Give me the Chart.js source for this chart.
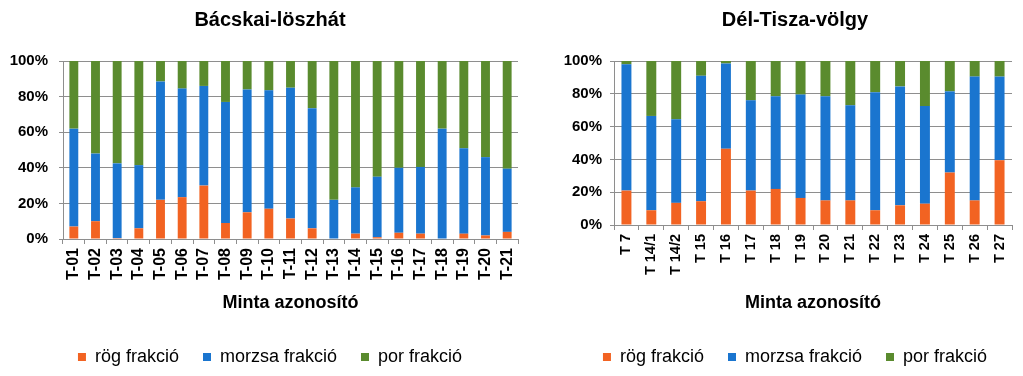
<!DOCTYPE html>
<html>
<head>
<meta charset="utf-8">
<script src="https://cdn.jsdelivr.net/npm/chart.js@4"></script>
<style>
  html, body { margin: 0; padding: 0; background: #fff; overflow: hidden; }
  .box { position: absolute; top: 0; height: 376px; }
  #left { left: 0; width: 540px; }
  #right { left: 548px; width: 494px; }
</style>
</head>
<body>
<div class="box" id="left"><canvas id="c1"></canvas></div>
<div class="box" id="right"><canvas id="c2"></canvas></div>
<script>
// Bácskai-löszhát
const labelsA = ['T-01','T-02','T-03','T-04','T-05','T-06','T-07','T-08','T-09','T-10','T-11',
                 'T-12','T-13','T-14','T-15','T-16','T-17','T-18','T-19','T-20','T-21'];
const rogA    = [7, 10, 0.5, 6, 22, 23.5, 30, 9, 15, 17, 11.5, 6, 0, 3, 1, 3.5, 3, 0, 3, 2, 4];
const morzsaA = [55, 38, 42, 35.5, 66.5, 61, 56, 68, 69, 66.5, 73.5, 67.5, 22, 26, 34, 36.5, 37.5, 62, 48, 44, 35.5];
const porA    = [38, 52, 57.5, 58.5, 11.5, 15.5, 14, 23, 16, 16.5, 15, 26.5, 78, 71, 65, 60, 59.5, 38, 49, 54, 60.5];

// Dél-Tisza-völgy
const labelsB = ['T 7','T 14/1','T 14/2','T 15','T 16','T 17','T 18','T 19','T 20','T 21',
                 'T 22','T 23','T 24','T 25','T 26','T 27'];
const rogB    = [21, 9, 13.5, 14.5, 46.5, 21, 22, 16.5, 15, 15, 9, 12, 13, 32, 15, 39.5];
const morzsaB = [77, 57.5, 51, 76.5, 52, 55, 56.5, 63, 63.5, 58, 72, 72.5, 59.5, 49.5, 75.5, 51];
const porB    = [2, 33.5, 35.5, 9, 1.5, 24, 21.5, 20.5, 21.5, 27, 19, 15.5, 27.5, 18.5, 9.5, 9.5];

const seriesNames = ['rög frakció', 'morzsa frakció', 'por frakció'];
const colors = ['#F26322', '#1A75CF', '#5A8B2E'];
const yTicks = [0, 20, 40, 60, 80, 100];

const FONT = "'Liberation Sans', Arial, sans-serif";
const gridGrey = '#8e8e8e';

function makeChart(id, title, labels, series, cfg) {
  new Chart(document.getElementById(id), {
    type: 'bar',
    data: {
      labels: labels,
      datasets: series.map((d, i) => ({
        label: seriesNames[i],
        data: d,
        backgroundColor: colors[i],
        borderWidth: 0,
        categoryPercentage: 1,
        barPercentage: cfg.bar
      }))
    },
    options: {
      responsive: true,
      maintainAspectRatio: false,
      animation: false,
      layout: { padding: 0 },
      plugins: {
        title: {
          display: true,
          text: title,
          color: '#000',
          font: { family: FONT, size: 20, weight: 'bold' },
          padding: { top: 8, bottom: 29 }
        },
        legend: {
          position: 'bottom',
          labels: {
            color: '#000',
            boxWidth: 8,
            boxHeight: 8,
            padding: 24,
            font: { family: FONT, size: 18 }
          }
        },
        tooltip: { enabled: false }
      },
      scales: {
        x: {
          stacked: true,
          grid: { display: true, drawOnChartArea: false, drawTicks: true, tickLength: 5, color: gridGrey, offset: true },
          border: { color: gridGrey, width: 1 },
          ticks: {
            color: '#000',
            minRotation: 90, maxRotation: 90,
            autoSkip: false,
            padding: 4,
            font: { family: FONT, size: cfg.xFont, weight: 'bold' }
          },
          title: {
            display: true,
            text: 'Minta azonosító',
            color: '#000',
            font: { family: FONT, size: 18, weight: 'bold' },
            padding: { top: 0, bottom: 10 }
          },
          afterFit: s => { s.height = cfg.xHeight; }
        },
        y: {
          stacked: true,
          min: 0, max: 100,
          afterBuildTicks: s => { s.ticks = yTicks.map(v => ({ value: v })); },
          grid: { color: gridGrey, lineWidth: 1, tickLength: 4 },
          border: { color: gridGrey, width: 1 },
          ticks: {
            color: '#000',
            padding: cfg.yPad,
            font: { family: FONT, size: 15, weight: 'bold' },
            callback: v => v + '%'
          },
          afterFit: s => { s.width = cfg.yWidth; }
        },
        // empty right-hand spacer so title and legend stay centred on the whole canvas
        spacer: {
          type: 'linear',
          position: 'right',
          grid: { display: false },
          border: { display: false },
          ticks: { display: false },
          afterFit: s => { s.width = cfg.padRight; }
        }
      }
    }
  });
}

makeChart('c1', 'Bácskai-löszhát', labelsA, [rogA, morzsaA, porA],
  { bar: 0.41, padRight: 22, yWidth: 63, yPad: 11, xFont: 16, xHeight: 85 });
makeChart('c2', 'Dél-Tisza-völgy', labelsB, [rogB, morzsaB, porB],
  { bar: 0.4, padRight: 30, yWidth: 66, yPad: 8, xFont: 14.5, xHeight: 99 });
</script>
</body>
</html>
